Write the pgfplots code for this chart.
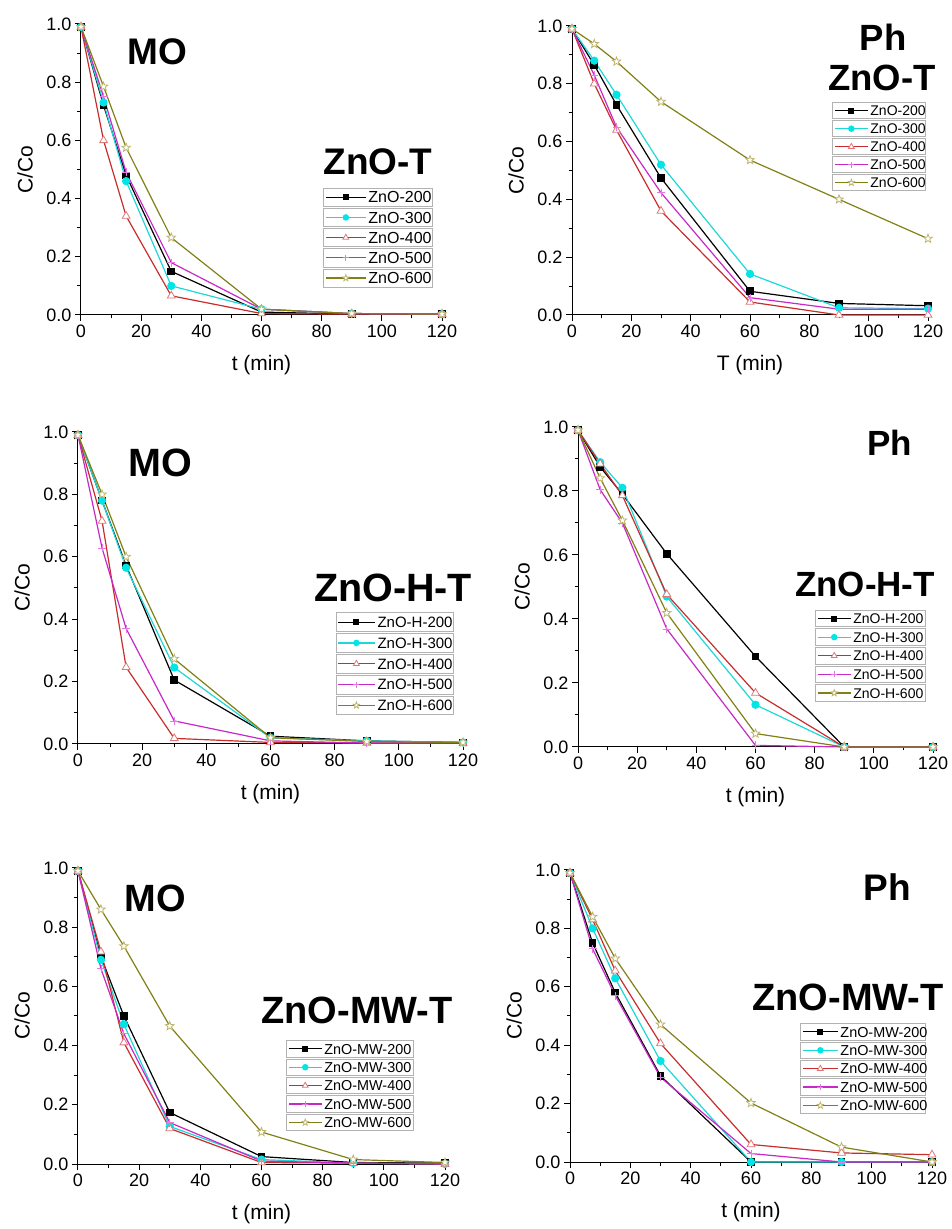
\documentclass[border=0pt]{standalone}
\usepackage{pgfplots}
\pgfplotsset{compat=1.18}
\usepackage{fontspec}
\setmainfont{Liberation Sans}

\definecolor{cyanL}{RGB}{30,215,215}
\definecolor{cyanM}{RGB}{0,230,230}
\definecolor{redL}{RGB}{200,45,45}
\definecolor{redM}{RGB}{225,120,120}
\definecolor{magL}{RGB}{200,40,200}
\definecolor{magM}{RGB}{230,120,230}
\definecolor{oliL}{RGB}{128,128,20}
\definecolor{oliM}{RGB}{190,180,110}

\pgfdeclareplotmark{ostar}{%
  \pgfpathmoveto{\pgfpointpolar{90}{\pgfplotmarksize}}%
  \pgfpathlineto{\pgfpointpolar{126}{0.42\pgfplotmarksize}}%
  \pgfpathlineto{\pgfpointpolar{162}{\pgfplotmarksize}}%
  \pgfpathlineto{\pgfpointpolar{198}{0.42\pgfplotmarksize}}%
  \pgfpathlineto{\pgfpointpolar{234}{\pgfplotmarksize}}%
  \pgfpathlineto{\pgfpointpolar{270}{0.42\pgfplotmarksize}}%
  \pgfpathlineto{\pgfpointpolar{306}{\pgfplotmarksize}}%
  \pgfpathlineto{\pgfpointpolar{342}{0.42\pgfplotmarksize}}%
  \pgfpathlineto{\pgfpointpolar{18}{\pgfplotmarksize}}%
  \pgfpathlineto{\pgfpointpolar{54}{0.42\pgfplotmarksize}}%
  \pgfpathclose
  \pgfusepathqfillstroke
}

\pgfplotsset{
  base/.style={
    scale only axis, xmin=0, xmax=120, ymin=0, ymax=1,
    axis lines=left, axis line style={-, line width=1pt},
    xtick={0,20,40,60,80,100,120}, ytick={0,0.2,0.4,0.6,0.8,1},
    minor x tick num=1, minor y tick num=1,
    tick align=outside, major tick length=6pt, minor tick length=3.5pt,
    every tick/.style={line width=1pt, black},
    every minor tick/.style={line width=1pt, black},
    ticklabel style={font=\fontsize{18}{20}\selectfont},
    /pgf/number format/assume math mode=true,
    yticklabel style={/pgf/number format/.cd, fixed, fixed zerofill, precision=1},
    label style={font=\fontsize{21}{24}\selectfont},
    xlabel style={at={([yshift=-50pt]axis description cs:0.5,0)}, anchor=center},
    ylabel style={at={([xshift=-56pt]axis description cs:0,0.5)}, anchor=center, rotate=0},
    clip=false,
    legend cell align=left,
    ylabel={C/Co},
  },
  leg/.style n args={8}{
    legend style={at={(#7,#8)}, anchor=north west, draw=none, fill=none, inner sep=0pt,
      column sep=0pt, row sep=#3, font=\fontsize{#1}{#1}\selectfont,
      nodes={inner xsep=2pt, inner ysep=0pt, text height=#2, text depth=2pt}},
    legend image code/.code={\draw[overlay, draw=gray!60, line width=0.8pt, solid, fill=none] (-2pt,-#6) rectangle (#5,#6);
      \draw[mark repeat=2, mark phase=2, ##1, every mark/.append style={scale=0.75}] plot coordinates {(0pt,0pt) (#4/2,0pt) (#4,0pt)};}
  },
  s200/.style={black, line width=1.2pt, mark=square*, mark size=3.2pt, mark options={solid, fill=black}},
  s300/.style={cyanL, line width=1.2pt, mark=*, mark size=3.5pt, mark options={solid, draw=cyanM, fill=cyanM}},
  s400/.style={redL, line width=1.2pt, mark=triangle*, mark size=4.5pt, mark options={solid, draw=redM, fill=white, line width=0.8pt}},
  s500/.style={magL, line width=1.2pt, mark=+, mark size=4pt, mark options={solid, draw=magM, line width=0.8pt}},
  s600/.style={oliL, line width=1.2pt, mark=ostar, mark size=4.5pt, mark options={solid, draw=oliM, fill=white, line width=0.8pt}},
}

\begin{document}
\begin{tikzpicture}
\path[use as bounding box] (0,0) rectangle (951pt,1229pt);

% ---------- Panel 1: MO, ZnO-T ----------
\begin{axis}[base, at={(81pt,914pt)}, anchor=south west, width=361pt, height=291pt,
  xlabel={t (min)}, leg={16}{13.5pt}{4.7pt}{40pt}{107pt}{9.1pt}{0.676}{0.432}]
\addplot[s200] coordinates {(0,0.99)(7.5,0.72)(15,0.48)(30,0.15)(60,0.01)(90,0.003)(120,0.003)};
\addplot[s300] coordinates {(0,0.99)(7.5,0.73)(15,0.46)(30,0.10)(60,0.02)(90,0.005)(120,0.003)};
\addplot[s400] coordinates {(0,0.99)(7.5,0.60)(15,0.34)(30,0.066)(60,0.005)(90,0.003)(120,0.003)};
\addplot[s500] coordinates {(0,0.99)(7.5,0.75)(15,0.49)(30,0.18)(60,0.02)(90,0.005)(120,0.003)};
\addplot[s600] coordinates {(0,0.99)(7.5,0.785)(15,0.575)(30,0.266)(60,0.02)(90,0.005)(120,0.003)};
\legend{ZnO-200,ZnO-300,ZnO-400,ZnO-500,ZnO-600}
\end{axis}

% ---------- Panel 2: Ph, ZnO-T ----------
\begin{axis}[base, at={(572pt,914pt)}, anchor=south west, width=356pt, height=289pt,
  xlabel={T (min)}, leg={14}{12.1pt}{3.9pt}{33pt}{91pt}{8pt}{0.736}{0.732}]
\addplot[s200] coordinates {(0,0.99)(7.5,0.865)(15,0.727)(30,0.474)(60,0.082)(90,0.04)(120,0.032)};
\addplot[s300] coordinates {(0,0.99)(7.5,0.88)(15,0.762)(30,0.52)(60,0.142)(90,0.025)(120,0.022)};
\addplot[s400] coordinates {(0,0.99)(7.5,0.80)(15,0.64)(30,0.36)(60,0.045)(90,0.0)(120,0.0)};
\addplot[s500] coordinates {(0,0.99)(7.5,0.83)(15,0.65)(30,0.423)(60,0.06)(90,0.02)(120,0.02)};
\addplot[s600] coordinates {(0,0.99)(7.5,0.938)(15,0.877)(30,0.738)(60,0.536)(90,0.40)(120,0.264)};
\legend{ZnO-200,ZnO-300,ZnO-400,ZnO-500,ZnO-600}
\end{axis}

% ---------- Panel 3: MO, ZnO-H-T ----------
\begin{axis}[base, at={(78pt,485pt)}, anchor=south west, width=385pt, height=312pt,
  xlabel={t (min)}, leg={15}{12.8pt}{6pt}{37pt}{115pt}{9.4pt}{0.673}{0.415}]
\addplot[s200] coordinates {(0,0.99)(7.5,0.78)(15,0.572)(30,0.205)(60,0.025)(90,0.01)(120,0.005)};
\addplot[s300] coordinates {(0,0.99)(7.5,0.78)(15,0.565)(30,0.245)(60,0.02)(90,0.01)(120,0.005)};
\addplot[s400] coordinates {(0,0.99)(7.5,0.715)(15,0.246)(30,0.018)(60,0.005)(90,0.003)(120,0.003)};
\addplot[s500] coordinates {(0,0.99)(7.5,0.628)(15,0.37)(30,0.074)(60,0.01)(90,0.003)(120,0.003)};
\addplot[s600] coordinates {(0,0.99)(7.5,0.80)(15,0.60)(30,0.273)(60,0.02)(90,0.008)(120,0.005)};
\legend{ZnO-H-200,ZnO-H-300,ZnO-H-400,ZnO-H-500,ZnO-H-600}
\end{axis}

% ---------- Panel 4: Ph, ZnO-H-T ----------
\begin{axis}[base, at={(578pt,482pt)}, anchor=south west, width=355pt, height=320pt,
  xlabel={t (min)}, leg={14}{12.1pt}{4.5pt}{33pt}{108pt}{8.3pt}{0.673}{0.424}]
\addplot[s200] coordinates {(0,0.99)(7.5,0.875)(15,0.79)(30,0.604)(60,0.283)(90,0.0)(120,0.0)};
\addplot[s300] coordinates {(0,0.99)(7.5,0.89)(15,0.81)(30,0.47)(60,0.132)(90,0.0)(120,0.0)};
\addplot[s400] coordinates {(0,0.99)(7.5,0.885)(15,0.786)(30,0.477)(60,0.169)(90,0.0)(120,0.0)};
\addplot[s500] coordinates {(0,0.99)(7.5,0.804)(15,0.70)(30,0.369)(60,0.005)(90,0.0)(120,0.0)};
\addplot[s600] coordinates {(0,0.99)(7.5,0.84)(15,0.708)(30,0.419)(60,0.042)(90,0.0)(120,0.0)};
\legend{ZnO-H-200,ZnO-H-300,ZnO-H-400,ZnO-H-500,ZnO-H-600}
\end{axis}

% ---------- Panel 5: MO, ZnO-MW-T ----------
\begin{axis}[base, at={(78pt,65pt)}, anchor=south west, width=367pt, height=296pt,
  xlabel={t (min)}, leg={14.4}{12.4pt}{4pt}{33pt}{125pt}{8.2pt}{0.572}{0.414}]
\addplot[s200] coordinates {(0,0.99)(7.5,0.70)(15,0.50)(30,0.174)(60,0.025)(90,0.005)(120,0.003)};
\addplot[s300] coordinates {(0,0.99)(7.5,0.69)(15,0.472)(30,0.127)(60,0.015)(90,0.003)(120,0.0)};
\addplot[s400] coordinates {(0,0.99)(7.5,0.717)(15,0.41)(30,0.12)(60,0.005)(90,0.003)(120,0.0)};
\addplot[s500] coordinates {(0,0.99)(7.5,0.66)(15,0.44)(30,0.14)(60,0.01)(90,0.003)(120,0.0)};
\addplot[s600] coordinates {(0,0.99)(7.5,0.86)(15,0.736)(30,0.466)(60,0.108)(90,0.015)(120,0.005)};
\legend{ZnO-MW-200,ZnO-MW-300,ZnO-MW-400,ZnO-MW-500,ZnO-MW-600}
\end{axis}

% ---------- Panel 6: Ph, ZnO-MW-T ----------
\begin{axis}[base, at={(570pt,67pt)}, anchor=south west, width=362pt, height=292pt,
  xlabel={t (min)}, leg={14.4}{12.4pt}{4pt}{35pt}{123pt}{8.2pt}{0.641}{0.471}]
\addplot[s200] coordinates {(0,0.99)(7.5,0.75)(15,0.58)(30,0.295)(60,0.0)(90,0.0)(120,0.0)};
\addplot[s300] coordinates {(0,0.99)(7.5,0.80)(15,0.629)(30,0.346)(60,0.0)(90,0.0)(120,0.0)};
\addplot[s400] coordinates {(0,0.99)(7.5,0.83)(15,0.655)(30,0.406)(60,0.06)(90,0.031)(120,0.025)};
\addplot[s500] coordinates {(0,0.99)(7.5,0.73)(15,0.57)(30,0.29)(60,0.029)(90,0.0)(120,0.0)};
\addplot[s600] coordinates {(0,0.99)(7.5,0.84)(15,0.697)(30,0.471)(60,0.202)(90,0.051)(120,0.0)};
\legend{ZnO-MW-200,ZnO-MW-300,ZnO-MW-400,ZnO-MW-500,ZnO-MW-600}
\end{axis}

% ---------- Panel titles ----------
\node[font=\fontsize{37}{40}\bfseries] at (157pt,1177pt) {MO};
\node[font=\fontsize{37}{40}\bfseries] at (378pt,1067pt) {ZnO-T};
\node[font=\fontsize{36.5}{40}\bfseries] at (883pt,1192pt) {Ph};
\node[font=\fontsize{36.5}{40}\bfseries] at (882pt,1151pt) {ZnO-T};
\node[font=\fontsize{39.5}{42}\bfseries] at (160pt,766pt) {MO};
\node[font=\fontsize{39.5}{42}\bfseries] at (393pt,641pt) {ZnO-H-T};
\node[font=\fontsize{35}{38}\bfseries] at (890pt,786pt) {Ph};
\node[font=\fontsize{35}{38}\bfseries] at (865pt,645pt) {ZnO-H-T};
\node[font=\fontsize{38}{41}\bfseries] at (155pt,331pt) {MO};
\node[font=\fontsize{38}{41}\bfseries] at (357pt,219pt) {ZnO-MW-T};
\node[font=\fontsize{37}{40}\bfseries] at (887pt,342pt) {Ph};
\node[font=\fontsize{38}{41}\bfseries] at (848pt,232pt) {ZnO-MW-T};
\end{tikzpicture}
\end{document}
